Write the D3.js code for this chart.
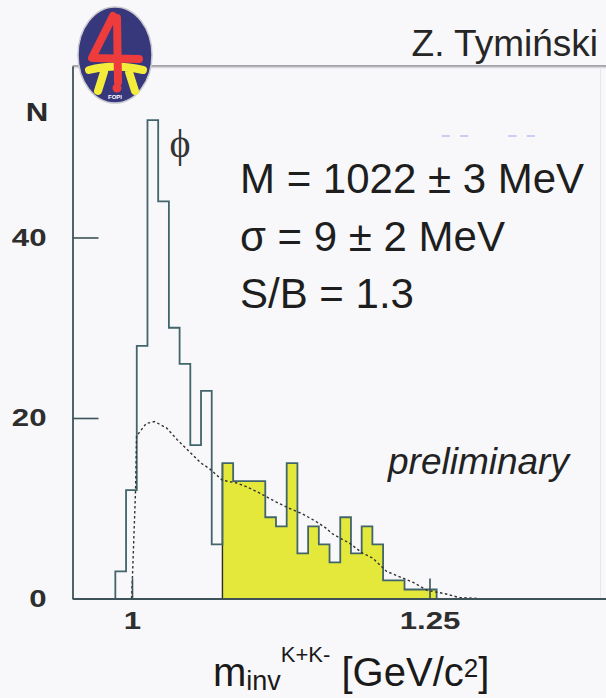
<!DOCTYPE html>
<html>
<head>
<meta charset="utf-8">
<script src="https://cdn.jsdelivr.net/npm/d3@7"></script>
<style>
  body { margin: 0; background: #f8f8fa; }
  svg { display: block; }
</style>
</head>
<body>
<div id="chart"></div>
<script>
// histogram of K+K- invariant mass : lower bin edge (GeV/c2) and entries
var binLow = [0.986, 0.995, 1.004, 1.013, 1.022, 1.031, 1.040, 1.049, 1.058, 1.067,
              1.076, 1.085, 1.094, 1.103, 1.112, 1.121, 1.130, 1.139, 1.148, 1.157,
              1.166, 1.175, 1.184, 1.193, 1.202, 1.211, 1.220, 1.229, 1.238, 1.247];
var counts = [3, 12, 28, 53, 44, 30, 26, 17, 23, 6,
              15, 13, 13, 13, 9, 8, 15, 5, 8, 6,
              4, 9, 5, 8, 6, 2, 2, 1, 1, 1];
var binWidth = 0.009;
var sideBandFrom = 1.076;   // yellow part starts here

// mixed-event background (dotted)
var bgMass   = [0.9996, 1.0004, 1.003, 1.0038, 1.012, 1.019, 1.029, 1.038, 1.048, 1.058,
                1.065, 1.076, 1.088, 1.096, 1.107, 1.121, 1.132, 1.143, 1.155, 1.163,
                1.168, 1.183, 1.194, 1.202, 1.214, 1.225, 1.236, 1.248, 1.256, 1.264, 1.275, 1.292];
var bgCounts = [0, 2.5, 12, 18, 19.4, 19.6, 18.9, 17.6, 16.3, 15,
                14.4, 13.1, 12.8, 12.4, 11.7, 10.7, 10, 9.4, 8.5, 7.8,
                7.2, 6.1, 5.0, 4.5, 3.0, 2.4, 1.8, 0.9, 0.7, 0.5, 0.1, 0];

var xTicks = [1, 1.25];
var xTickLabels = ["1", "1.25"];
var yTicks = [0, 20, 40];
var yTickLabels = ["0", "20", "40"];
var fitLines = ["M = 1022 \u00b1 3 MeV", "\u03c3 = 9 \u00b1 2 MeV", "S/B = 1.3"];

var width = 606, height = 698;
var axisColor = "#3d5359";

var svg = d3.select("#chart")
  .append("svg")
    .attr("width", width)
    .attr("height", height);

var x = d3.scaleLinear().domain([0.95, 1.4]).range([72.5, 608]);
var y = d3.scaleLinear().domain([0, 59]).range([598.5, 66]);

// plot frame (top + faint right edge)
svg.append("line")
  .attr("x1", 72.5).attr("x2", width).attr("y1", 66).attr("y2", 66)
  .attr("stroke", "#8a8a8e").attr("stroke-width", 1.5);
svg.append("line")
  .attr("x1", 72.5).attr("x2", width).attr("y1", 67.5).attr("y2", 67.5)
  .attr("stroke", "#d8d8dc").attr("stroke-width", 1.5);
svg.append("line")
  .attr("x1", 600.5).attr("x2", 600.5).attr("y1", 67).attr("y2", 598)
  .attr("stroke", "#ece4e8").attr("stroke-width", 1);

// faint leftover dashes
[[441.7, 450], [460, 468.3], [508.3, 516.7], [526.7, 535]].forEach(function(s) {
  svg.append("line")
    .attr("x1", s[0]).attr("x2", s[1]).attr("y1", 136).attr("y2", 136)
    .attr("stroke", "#b8c0f4").attr("stroke-width", 1.5);
});

// yellow side-band part of the histogram
var yellowPts = [];
binLow.forEach(function(lo, i) {
  if (lo >= sideBandFrom - 1e-6) {
    yellowPts.push([lo, counts[i]]);
    yellowPts.push([lo + binWidth, counts[i]]);
  }
});
svg.append("path")
  .datum(yellowPts)
  .attr("fill", "#e4e83a")
  .attr("d", d3.area()
    .x(function(d) { return x(d[0]); })
    .y0(y(0))
    .y1(function(d) { return y(d[1]); }));

svg.append("line")
  .attr("x1", x(sideBandFrom)).attr("x2", x(sideBandFrom))
  .attr("y1", y(0)).attr("y2", y(counts[binLow.indexOf(sideBandFrom)]))
  .attr("stroke", "#2b2b2b").attr("stroke-width", 1.4);

// solid histogram outline
var histPts = [[binLow[0], 0]];
binLow.forEach(function(lo, i) {
  histPts.push([lo, counts[i]]);
  histPts.push([lo + binWidth, counts[i]]);
});
histPts.push([binLow[binLow.length - 1] + binWidth, 0]);

svg.append("path")
  .datum(histPts)
  .attr("fill", "none")
  .attr("stroke", "#41656b")
  .attr("stroke-width", 1.8)
  .attr("d", d3.line()
    .x(function(d) { return x(d[0]); })
    .y(function(d) { return y(d[1]); }));

// dotted background
svg.append("path")
  .datum(d3.zip(bgMass, bgCounts))
  .attr("fill", "none")
  .attr("stroke", "#333")
  .attr("stroke-width", 1.4)
  .attr("stroke-dasharray", "2.5,2.5")
  .attr("d", d3.line()
    .x(function(d) { return x(d[0]); })
    .y(function(d) { return y(d[1]); }));

// axes
var yAxis = svg.append("g")
  .attr("transform", "translate(72.5,0)")
  .call(d3.axisLeft(y)
    .tickValues(yTicks)
    .tickFormat(function(d, i) { return yTickLabels[i]; })
    .tickSizeInner(-26)
    .tickSizeOuter(0)
    .tickPadding(20));

var xAxis = svg.append("g")
  .attr("transform", "translate(0," + y(0) + ")")
  .call(d3.axisBottom(x)
    .tickValues(xTicks)
    .tickFormat(function(d, i) { return xTickLabels[i]; })
    .tickSizeInner(-20)
    .tickSizeOuter(0)
    .tickPadding(13));

[yAxis, xAxis].forEach(function(ax) {
  ax.select(".domain").attr("stroke", axisColor).attr("stroke-width", 1.8);
  ax.selectAll(".tick line").attr("stroke", axisColor).attr("stroke-width", 1.6);
  ax.selectAll(".tick text")
    .attr("font-family", "Liberation Sans, Arial, sans-serif")
    .attr("font-weight", "bold")
    .attr("font-size", 24)
    .attr("fill", "#2e2e2e")
    .attr("transform", "scale(1.3,1)");
});

// texts
svg.append("text")
  .attr("transform", "translate(37,121) scale(1.2,1)")
  .attr("text-anchor", "middle")
  .attr("font-family", "Liberation Sans, Arial, sans-serif")
  .attr("font-weight", "bold")
  .attr("font-size", 26)
  .attr("fill", "#2a2a2a")
  .text("N");

svg.append("text")
  .attr("x", 180).attr("y", 157)
  .attr("text-anchor", "middle")
  .attr("font-family", "Liberation Serif, serif")
  .attr("font-size", 40)
  .attr("fill", "#333")
  .text("\u03d5");

svg.append("text")
  .attr("x", 598).attr("y", 56)
  .attr("text-anchor", "end")
  .attr("font-family", "Liberation Sans, Arial, sans-serif")
  .attr("font-size", 37)
  .attr("fill", "#262626")
  .text("Z. Tymi\u0144ski");

svg.selectAll(".fit")
  .data(fitLines)
  .enter()
  .append("text")
    .attr("class", "fit")
    .attr("x", 240)
    .attr("y", function(d, i) { return 193 + i * 57.5; })
    .attr("font-family", "Liberation Sans, Arial, sans-serif")
    .attr("font-size", 42)
    .attr("fill", "#1e1e1e")
    .text(function(d) { return d; });

svg.append("text")
  .attr("x", 388).attr("y", 474)
  .attr("font-family", "Liberation Sans, Arial, sans-serif")
  .attr("font-style", "italic")
  .attr("font-size", 37)
  .attr("fill", "#222")
  .text("preliminary");

var title = svg.append("text")
  .attr("x", 213).attr("y", 686)
  .attr("font-family", "Liberation Sans, Arial, sans-serif")
  .attr("font-size", 40)
  .attr("fill", "#1a1a1a");
title.append("tspan").text("m");
title.append("tspan").attr("font-size", 27).attr("dy", 4).text("inv");
title.append("tspan").attr("font-size", 22).attr("dy", -28).text("K+K-");
title.append("tspan").attr("dy", 24).text(" [GeV/c");
title.append("tspan").attr("font-size", 26).attr("dy", -9).text("2");
title.append("tspan").attr("dy", 9).text("]");

// FOPI logo
var logo = svg.append("g");
logo.append("ellipse")
  .attr("cx", 115).attr("cy", 55).attr("rx", 37).attr("ry", 48)
  .attr("fill", "#37377c").attr("stroke", "#c8c8d0").attr("stroke-width", 1.5);
logo.append("path")
  .attr("d", "M89 70 Q115 63 143 70 M104 72 L98 91 M129 72 L135 91")
  .attr("fill", "none").attr("stroke", "#f4ec3a")
  .attr("stroke-width", 8).attr("stroke-linecap", "round");
logo.append("path")
  .attr("d", "M113 16 L92 58 L139 59 M117 18 L118 82")
  .attr("fill", "none").attr("stroke", "#ee3b3b")
  .attr("stroke-width", 8).attr("stroke-linecap", "round").attr("stroke-linejoin", "round");
logo.append("circle")
  .attr("cx", 117).attr("cy", 88).attr("r", 4.5).attr("fill", "#ee3b3b");
logo.append("text")
  .attr("x", 115).attr("y", 99)
  .attr("text-anchor", "middle")
  .attr("font-family", "Liberation Sans, Arial, sans-serif")
  .attr("font-weight", "bold")
  .attr("font-size", 6)
  .attr("fill", "#fff")
  .text("FOPI");
</script>
</body>
</html>
